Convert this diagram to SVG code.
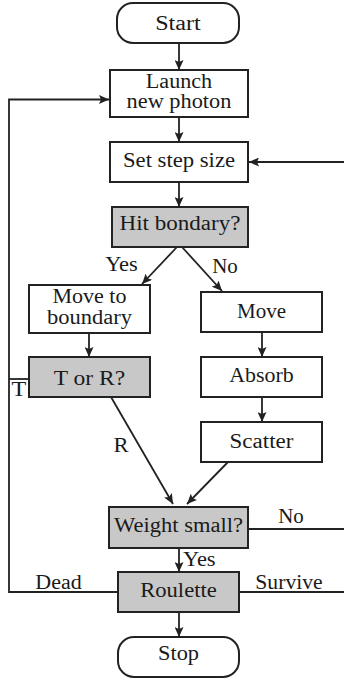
<svg xmlns="http://www.w3.org/2000/svg" width="344" height="682" viewBox="0 0 344 682">
<style>
.box{fill:#fff;stroke:#222;stroke-width:2}
.dec{fill:#c8c8c8;stroke:#222;stroke-width:2}
.t{font-family:"Liberation Serif","DejaVu Serif",serif;font-size:20.5px;fill:#1a1a1a;text-anchor:middle}
.c{fill:none;stroke:#222;stroke-width:1.8}
.a{marker-end:url(#ah)}
</style>
<defs>
<marker id="ah" markerUnits="userSpaceOnUse" markerWidth="11" markerHeight="9" refX="10" refY="4.5" orient="auto">
<path d="M0,0 L10,4.5 L0,9 L2,4.5 z" fill="#222"/>
</marker>
</defs>
<g id="connectors">
<path class="c a" d="M179,43 V70"/>
<path class="c a" d="M179,117 V142"/>
<path class="c a" d="M179,182 V207"/>
<path class="c a" d="M177,247 L142,284"/>
<path class="c a" d="M182,247 L222,291"/>
<path class="c a" d="M89,333 V357"/>
<path class="c a" d="M262,332 V357"/>
<path class="c a" d="M262,397 V422"/>
<path class="c a" d="M111,397 L173,504"/>
<path class="c a" d="M228,462 L187,504"/>
<path class="c a" d="M179,548 V572"/>
<path class="c a" d="M179,612 V637"/>
<path class="c" d="M29,379 H9"/>
<path class="c a" d="M118,592 H9 V99.5 H109"/>
<path class="c" d="M248,529 H344"/>
<path class="c" d="M239,592 H344"/>
<path class="c a" d="M344,162 H249"/>
<text class="t" x="121.5" y="271" textLength="32.6" lengthAdjust="spacingAndGlyphs">Yes</text>
<text class="t" x="225" y="273" textLength="25.6" lengthAdjust="spacingAndGlyphs">No</text>
<text class="t" x="19" y="396" textLength="14.8" lengthAdjust="spacingAndGlyphs">T</text>
<text class="t" x="121" y="452" textLength="15.1" lengthAdjust="spacingAndGlyphs">R</text>
<text class="t" x="291" y="523" textLength="25.6" lengthAdjust="spacingAndGlyphs">No</text>
<text class="t" x="183" y="566" style="text-anchor:start" textLength="32.6" lengthAdjust="spacingAndGlyphs">Yes</text>
<text class="t" x="58.5" y="589" textLength="46.4" lengthAdjust="spacingAndGlyphs">Dead</text>
<text class="t" x="289" y="589" textLength="67.3" lengthAdjust="spacingAndGlyphs">Survive</text>
</g>
<g id="start">
<rect class="box" x="117" y="3" width="122" height="40" rx="16"/>
<text class="t" x="178" y="30" textLength="45.6" lengthAdjust="spacingAndGlyphs">Start</text>
</g>
<g id="launch">
<rect class="box" x="110" y="70" width="138" height="47"/>
<text class="t" x="179" y="88" textLength="66.4" lengthAdjust="spacingAndGlyphs">Launch</text>
<text class="t" x="179" y="108" textLength="104.8" lengthAdjust="spacingAndGlyphs">new photon</text>
</g>
<g id="setstep">
<rect class="box" x="110" y="142" width="138" height="40"/>
<text class="t" x="179" y="167" textLength="112" lengthAdjust="spacingAndGlyphs">Set step size</text>
</g>
<g id="hit">
<rect class="dec" x="112" y="207" width="136" height="40"/>
<text class="t" x="180" y="230" textLength="121" lengthAdjust="spacingAndGlyphs">Hit bondary?</text>
</g>
<g id="movetoboundary">
<rect class="box" x="29" y="285" width="121" height="48"/>
<text class="t" x="89.5" y="303" textLength="74" lengthAdjust="spacingAndGlyphs">Move to</text>
<text class="t" x="89.5" y="323.5" textLength="85" lengthAdjust="spacingAndGlyphs">boundary</text>
</g>
<g id="move">
<rect class="box" x="201" y="292" width="121" height="40"/>
<text class="t" x="261.5" y="318" textLength="49" lengthAdjust="spacingAndGlyphs">Move</text>
</g>
<g id="tor">
<rect class="dec" x="29" y="357" width="121" height="40"/>
<text class="t" x="89.5" y="385" textLength="71.5" lengthAdjust="spacingAndGlyphs">T or R?</text>
</g>
<g id="absorb">
<rect class="box" x="201" y="357" width="121" height="40"/>
<text class="t" x="261.5" y="382" textLength="64.5" lengthAdjust="spacingAndGlyphs">Absorb</text>
</g>
<g id="scatter">
<rect class="box" x="201" y="422" width="121" height="40"/>
<text class="t" x="261.5" y="448" textLength="63.8" lengthAdjust="spacingAndGlyphs">Scatter</text>
</g>
<g id="weight">
<rect class="dec" x="109" y="507" width="139" height="41"/>
<text class="t" x="178.5" y="532" textLength="128.8" lengthAdjust="spacingAndGlyphs">Weight small?</text>
</g>
<g id="roulette">
<rect class="dec" x="118" y="572" width="121" height="40"/>
<text class="t" x="178.5" y="597" textLength="76.6" lengthAdjust="spacingAndGlyphs">Roulette</text>
</g>
<g id="stop">
<rect class="box" x="118" y="637" width="121" height="40" rx="16"/>
<text class="t" x="178.5" y="660" textLength="41" lengthAdjust="spacingAndGlyphs">Stop</text>
</g>
</svg>
